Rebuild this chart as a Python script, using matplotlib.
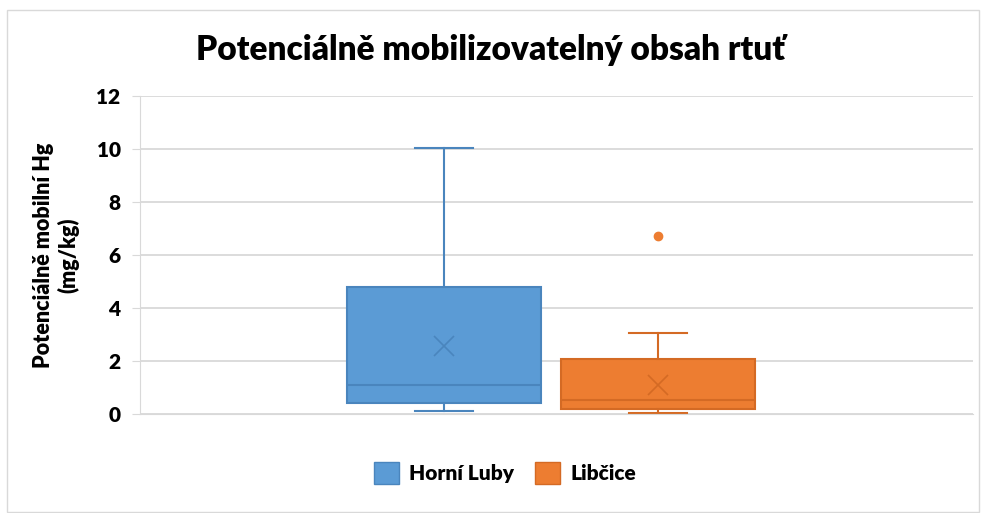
import matplotlib.pyplot as plt
from matplotlib.patches import Patch, Rectangle

plt.rcParams['font.family'] = ['Lato', 'DejaVu Sans']

# Box statistics (mg/kg)
series = ['Horní Luby', 'Libčice']
whislo = [0.10, 0.04]
q1 = [0.42, 0.19]
med = [1.09, 0.53]
q3 = [4.79, 2.08]
whishi = [10.05, 3.06]
means = [2.57, 1.09]
outliers = [[], [6.72]]
colors = ['#5b9bd5', '#ed7d31']
edges = ['#4a85bd', '#d46a24']
yticks = [0, 2, 4, 6, 8, 10, 12]

fig = plt.figure(figsize=(9.81, 5.13), dpi=100)
ax = fig.add_axes([140 / 981, 1 - 414 / 513, 833 / 981, 318 / 513])

positions = [0.365, 0.622]
for i in range(len(series)):
    stats = [dict(whislo=whislo[i], q1=q1[i], med=med[i], q3=q3[i],
                  whishi=whishi[i], mean=means[i], fliers=outliers[i])]
    ax.bxp(stats, positions=[positions[i]], widths=0.232, patch_artist=True,
           showmeans=True, meanline=False, manage_ticks=False,
           boxprops=dict(facecolor=colors[i], edgecolor=edges[i], linewidth=1.5),
           medianprops=dict(color=edges[i], linewidth=1.5),
           whiskerprops=dict(color=edges[i], linewidth=1.5),
           capprops=dict(color=edges[i], linewidth=1.5),
           capwidths=0.069,
           meanprops=dict(marker='x', markeredgecolor=edges[i], markersize=14,
                          markeredgewidth=1.2),
           flierprops=dict(marker='o', markerfacecolor=colors[i],
                           markeredgecolor=colors[i], markersize=6))

ax.set_xlim(0, 1)
ax.set_ylim(0, 12)
ax.set_yticks(yticks)
ax.set_xticks([])
ax.yaxis.grid(True, color='#d9d9d9', linewidth=1.3)
ax.set_axisbelow(True)
for s in ['top', 'right']:
    ax.spines[s].set_visible(False)
ax.spines['left'].set_color('#d9d9d9')
ax.spines['bottom'].set_color('#d9d9d9')
ax.tick_params(axis='y', length=6, color='#d9d9d9', labelsize=15, pad=8)
for lbl in ax.get_yticklabels():
    lbl.set_fontweight('heavy')

ax.set_ylabel('Potenciálně mobilní Hg\n(mg/kg)', fontsize=15.5, fontweight='heavy',
              labelpad=12)

fig.suptitle('Potenciálně mobilizovatelný obsah rtuť', fontsize=24,
             fontweight='heavy', y=1 - 50 / 513, va='center')

handles = [Patch(facecolor=colors[i], edgecolor=edges[i]) for i in range(len(series))]
fig.legend(handles, series, loc='center', bbox_to_anchor=(505 / 981, 1 - 473 / 513),
           ncol=2, frameon=False, prop=dict(size=15, weight='heavy'),
           handlelength=1.2, handleheight=1.2, columnspacing=1.0, handletextpad=0.5)

fig.patches.append(Rectangle((7 / 981, 1 / 513), 972 / 981, 502 / 513,
                             transform=fig.transFigure, fill=False,
                             edgecolor='#d9d9d9', linewidth=1))

fig.savefig('out.png', dpi=100)
